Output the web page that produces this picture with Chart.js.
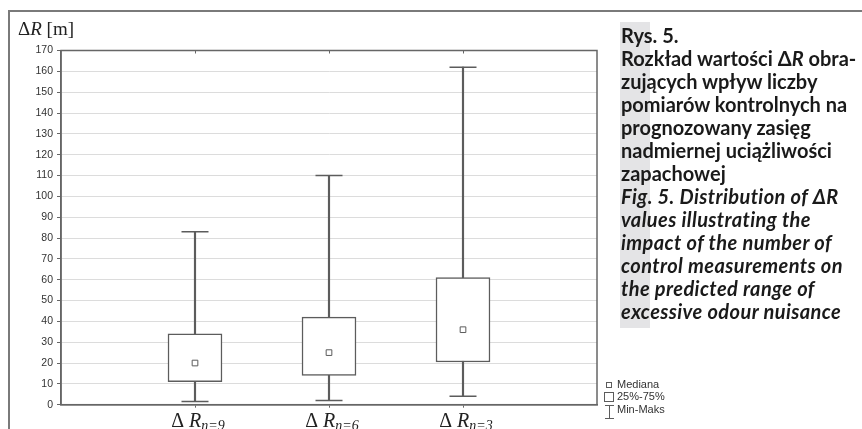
<!DOCTYPE html>
<html>
<head>
<meta charset="utf-8">
<script src="https://cdn.jsdelivr.net/npm/chart.js@4.4.1/dist/chart.umd.min.js"></script>
<style>
  html, body { margin: 0; padding: 0; background: #fff; }
  body { width: 862px; height: 429px; position: relative; overflow: hidden; }
  #frame { position: absolute; left: 8px; top: 10px; width: 900px; height: 500px;
           border-top: 2px solid #7a7a7a; border-left: 2px solid #7a7a7a; }
  #chart { position: absolute; left: 0; top: 0; }
  #band { position: absolute; left: 620px; top: 22px; width: 30px; height: 306px; background: #e4e4e6; }
  #caption { position: absolute; left: 621px; top: 24px; font-family: Lato, "Open Sans", sans-serif;
             font-weight: bold; font-size: 20px; line-height: 23px; color: #1a1a1a; white-space: nowrap; }
  #caption .en { font-style: italic; letter-spacing: 0.4px; }
</style>
</head>
<body>
<div id="frame"></div>
<div id="band"></div>
<canvas id="chart" width="862" height="429"></canvas>
<div id="caption">
  <div>Rys. 5.</div>
  <div>Rozkład wartości Δ<i>R</i> obra-</div>
  <div>zujących wpływ liczby</div>
  <div>pomiarów kontrolnych na</div>
  <div>prognozowany zasięg</div>
  <div>nadmiernej uciążliwości</div>
  <div>zapachowej</div>
  <div class="en">Fig. 5. Distribution of ΔR</div>
  <div class="en">values illustrating the</div>
  <div class="en">impact of the number of</div>
  <div class="en">control measurements on</div>
  <div class="en">the predicted range of</div>
  <div class="en">excessive odour nuisance</div>
</div>
<script>
// ---- data ----
const categories = ['n=9', 'n=6', 'n=3'];
const minVals    = [1.5, 2, 4];
const q1Vals     = [11, 14, 20.5];
const medianVals = [20, 25, 36];
const q3Vals     = [34, 42, 61];
const maxVals    = [83, 110, 162];
const yMin = 0, yMax = 170, yStep = 10;
const legendLabels = ['Mediana', '25%-75%', 'Min-Maks'];

const lineCol = '#5c5c5c';
const xs = categories.map((c, i) => i + 1);

const stemData = xs.map((x, i) => ({ x: x, y: [minVals[i], maxVals[i]] }));
const boxData = xs.map((x, i) => ({ x: x, y: [q1Vals[i], q3Vals[i]] }));
const capData = xs.flatMap((x, i) => [{ x: x, y: minVals[i] }, { x: x, y: maxVals[i] }]);
const medData = xs.map((x, i) => ({ x: x, y: medianVals[i] }));

const decor = {
  id: 'decor',
  afterDraw(chart) {
    const ctx = chart.ctx;
    const a = chart.chartArea;
    const xS = chart.scales.x;
    ctx.save();
    // plot frame
    ctx.strokeStyle = '#666';
    ctx.lineWidth = 1.5;
    ctx.strokeRect(a.left, a.top, a.right - a.left, a.bottom - a.top);
    // top ticks
    ctx.lineWidth = 1;
    xs.forEach(v => {
      const px = Math.round(xS.getPixelForValue(v)) + 0.5;
      ctx.beginPath(); ctx.moveTo(px, a.top); ctx.lineTo(px, a.top + 3); ctx.stroke();
    });
    // category labels
    ctx.fillStyle = '#222';
    ctx.textBaseline = 'alphabetic';
    ctx.textAlign = 'left';
    categories.forEach((c, i) => {
      const cx = xS.getPixelForValue(xs[i]) + 3;
      const f1 = '20px "Liberation Serif", "DejaVu Serif", serif';
      const f2 = 'italic 20px "Liberation Serif", "DejaVu Serif", serif';
      const f3 = 'italic 14px "Liberation Serif", "DejaVu Serif", serif';
      ctx.font = f1; const w1 = ctx.measureText('Δ ').width;
      ctx.font = f2; const w2 = ctx.measureText('R').width;
      ctx.font = f3; const w3 = ctx.measureText(c).width;
      let x0 = cx - (w1 + w2 + w3) / 2;
      const base = 427;
      ctx.font = f1; ctx.fillText('Δ ', x0, base); x0 += w1;
      ctx.font = f2; ctx.fillText('R', x0, base); x0 += w2;
      ctx.font = f3; ctx.fillText(c, x0, base + 3);
    });
    // y title
    ctx.fillStyle = '#222';
    let tx = 18;
    const tb = 35;
    ctx.font = '19px "Liberation Serif", serif';
    ctx.fillText('Δ', tx, tb); tx += ctx.measureText('Δ').width;
    ctx.font = 'italic 19px "Liberation Serif", serif';
    ctx.fillText('R', tx, tb); tx += ctx.measureText('R').width;
    ctx.font = '19px "Liberation Serif", serif';
    ctx.fillText(' [m]', tx, tb);
    // legend
    ctx.font = '11px "Liberation Sans", Arial, sans-serif';
    ctx.fillStyle = '#333';
    ctx.textBaseline = 'middle';
    const lx = 617;
    const ly = [385, 397, 410];
    legendLabels.forEach((t, i) => ctx.fillText(t, lx, ly[i]));
    ctx.strokeStyle = lineCol;
    ctx.lineWidth = 1;
    ctx.strokeRect(606.5, ly[0] - 2.5, 5, 5);
    ctx.strokeRect(604.5, ly[1] - 4.5, 9, 9);
    ctx.beginPath();
    ctx.moveTo(605, ly[2] - 4.5); ctx.lineTo(614, ly[2] - 4.5);
    ctx.moveTo(609.5, ly[2] - 4.5); ctx.lineTo(609.5, ly[2] + 8.5);
    ctx.moveTo(605, ly[2] + 8.5); ctx.lineTo(614, ly[2] + 8.5);
    ctx.stroke();
    ctx.restore();
  }
};

new Chart(document.getElementById('chart'), {
  type: 'bar',
  data: {
    datasets: [
      { type: 'bar', label: 'stem', data: stemData, backgroundColor: lineCol, borderWidth: 0,
        barThickness: 1.5, grouped: false, order: 3 },
      { type: 'bar', label: 'box', data: boxData, backgroundColor: '#fff', borderColor: lineCol,
        borderWidth: 1.5, borderSkipped: false, barThickness: 54, grouped: false, order: 2 },
      { type: 'line', label: 'caps', data: capData, showLine: false, pointStyle: 'line',
        pointRadius: 13.5, pointBorderWidth: 1.5, pointBorderColor: lineCol, order: 1 },
      { type: 'line', label: 'median', data: medData, showLine: false, pointStyle: 'rect',
        pointRadius: 4, pointBorderWidth: 1, pointBorderColor: lineCol, pointBackgroundColor: '#fff', order: 0 }
    ]
  },
  options: {
    responsive: false,
    animation: false,
    devicePixelRatio: 1,
    layout: { padding: { left: 0, right: 265, top: 50.5, bottom: 0 } },
    plugins: { legend: { display: false }, tooltip: { enabled: false } },
    scales: {
      x: {
        type: 'linear', min: 0, max: 4, offset: false,
        afterBuildTicks: s => { s.ticks = xs.map(v => ({ value: v })); },
        afterFit: s => { s.height = 24.3; },
        ticks: { display: false },
        grid: { display: true, offset: false, drawOnChartArea: false, drawTicks: true, tickLength: 3, color: '#666' },
        border: { display: true, color: '#666', width: 1.5 }
      },
      y: {
        min: yMin, max: yMax,
        afterFit: s => { s.width = 61; },
        ticks: { stepSize: yStep, padding: 4, color: '#333',
                 font: { family: '"Liberation Sans", Arial, sans-serif', size: 10.5 } },
        grid: { color: '#dcdcdc', lineWidth: 1, tickLength: 4, tickColor: '#666' },
        border: { display: true, color: '#666', width: 1.5 }
      }
    }
  },
  plugins: [decor]
});
</script>
</body>
</html>
